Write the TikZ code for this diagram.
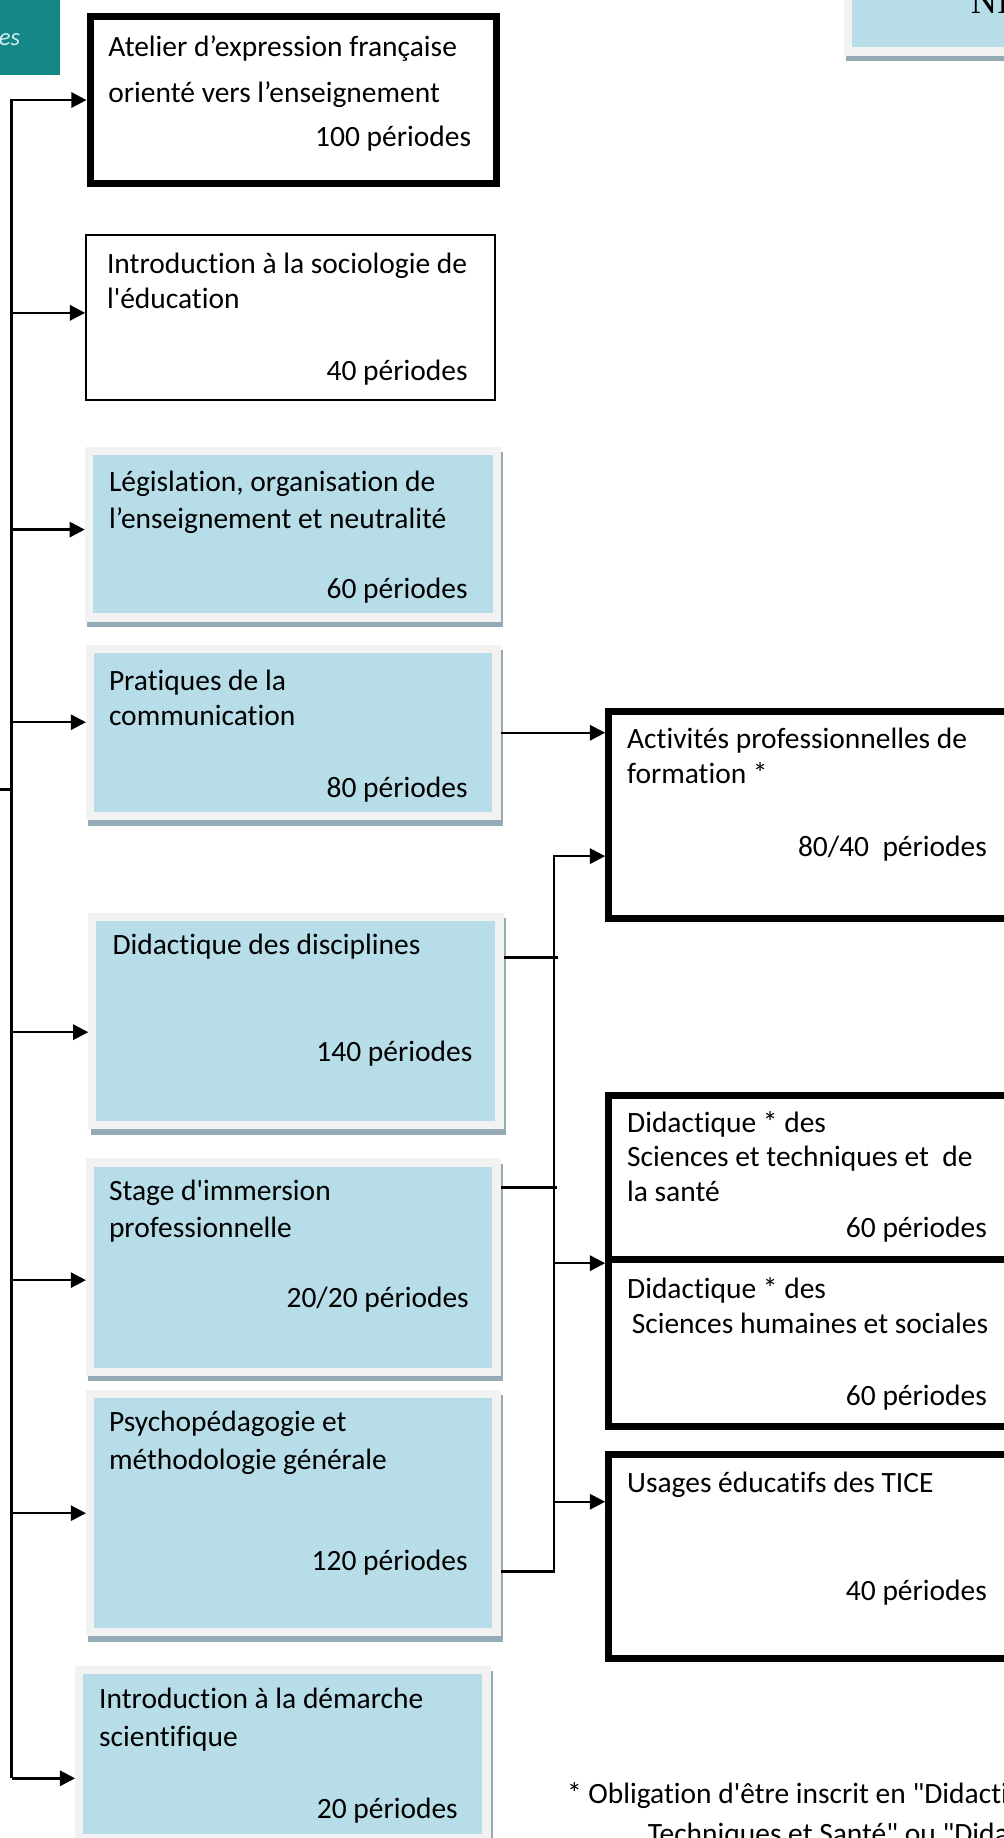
\documentclass[tikz,border=0pt]{standalone}
\usepackage{fontspec}
\setmainfont{Carlito}[Ligatures={TeXOff,CommonOff}]
\newfontfamily\headfont{Liberation Serif}
\usetikzlibrary{arrows.meta, positioning, shadows}
\definecolor{cellblue}{HTML}{B7DDE8}
\definecolor{celledge}{HTML}{F2F2F2}
\definecolor{cellshade}{HTML}{94ABB6}
\definecolor{bannerteal}{HTML}{138686}
\definecolor{bannertext}{HTML}{D2EFEF}
\tikzset{%
	module/.style={
		rectangle,
		inner sep=0pt,
		anchor=north west
	},
	plain module/.style={
		module,
		draw=black,
		fill=white,
		line width=2pt
	},
	bold module/.style={
		plain module,
		line width=6pt
	},
	shaded module/.style={
		module,
		fill=cellblue,
		draw=celledge,
		line width=7pt,
		general shadow={fill=cellshade, draw=cellshade, line width=7pt,
			shadow xshift=2pt, shadow yshift=-4.5pt}
	},
	txt/.style={
		inner sep=0pt,
		anchor=base west,
		font=\fontsize{25.2}{30.5}\selectfont
	},
	hours/.style={txt, anchor=base east},
	link/.style={line width=2.1pt},
	feed/.style={link, -{Triangle[length=13pt, width=13pt]}},
}
\begin{document}
\begin{tikzpicture}[x=1pt, y=-1pt]
	\useasboundingbox (0,0) rectangle (858.4,1571.5);
	\clip (0,0) rectangle (858.4,1571.5);

	% Banner corners cut by the page
	\fill[bannerteal] (-10,-10) rectangle (51,64);
	\node[txt, anchor=base east, font=\fontsize{21}{25}\selectfont\itshape, text=bannertext] (bannertag) at (17.5,38.5) {es};
	\node[shaded module, minimum width=300, minimum height=100] (levelbox) at (721.5,-59.5) {};
	\node[txt, font=\headfont\fontsize{31}{36}\selectfont] (leveltitle) at (830,11.5) {NI};

	% Modules of the left column
	\node[bold module, minimum width=347.6, minimum height=142.1] (atelier) at (74,11.5) {};
	\node[plain module, minimum width=349.2, minimum height=141] (socio) at (72.8,200) {};
	\node[shaded module, minimum width=348.7, minimum height=142.4] (legis) at (72.5,382.1) {};
	\node[shaded module, minimum width=347.5, minimum height=143] (pratiq) at (73.5,551.5) {};
	\node[shaded module, minimum width=348, minimum height=178] (didac) at (75.5,780.5) {};
	\node[shaded module, minimum width=347.5, minimum height=179] (stage) at (73.5,990.5) {};
	\node[shaded module, minimum width=347.5, minimum height=203.5] (psycho) at (73.5,1188.5) {};
	\node[shaded module, minimum width=348.3, minimum height=143.7] (demarche) at (64.2,1424.5) {};

	% Modules of the right column
	\node[bold module, minimum width=500, minimum height=176.5] (apf) at (517.4,605.5) {};
	\node[bold module, minimum width=500, minimum height=140.2] (dsts) at (517.4,933.8) {};
	\node[bold module, minimum width=500, minimum height=143] (dshs) at (517.4,1074) {};
	\node[bold module, minimum width=500, minimum height=174.5] (tice) at (517.4,1240.5) {};

	% Texts
	\node[txt] (atelier1) at (92.5,48) {Atelier d’expression française};
	\node[txt] (atelier2) at (92.5,88) {orienté vers l’enseignement};
	\node[hours] (atelier3) at (403,125) {100 périodes};

	\node[txt] (socio1) at (91.3,234) {Introduction à la sociologie de};
	\node[txt] (socio2) at (91.3,264) {l'éducation};
	\node[hours] (socio3) at (400,325) {40 périodes};

	\node[txt] (legis1) at (93,420) {Législation, organisation de};
	\node[txt] (legis2) at (93,452) {l’enseignement et neutralité};
	\node[hours] (legis3) at (400,512) {60 périodes};

	\node[txt] (pratiq1) at (93,590) {Pratiques de la};
	\node[txt] (pratiq2) at (93,620) {communication};
	\node[hours] (pratiq3) at (400,682) {80 périodes};

	\node[txt] (didac1) at (96,816) {Didactique des disciplines};
	\node[hours] (didac2) at (404,908) {140 périodes};

	\node[txt] (stage1) at (93,1026) {Stage d'immersion};
	\node[txt] (stage2) at (93,1058) {professionnelle};
	\node[hours] (stage3) at (401,1118) {20/20 périodes};

	\node[txt] (psycho1) at (93,1224) {Psychopédagogie et};
	\node[txt] (psycho2) at (93,1256) {méthodologie générale};
	\node[hours] (psycho3) at (400,1343) {120 périodes};

	\node[txt] (demarche1) at (84.6,1461) {Introduction à la démarche};
	\node[txt] (demarche2) at (84.6,1493) {scientifique};
	\node[hours] (demarche3) at (391.6,1555) {20 périodes};

	\node[txt] (apf1) at (536,640) {Activités professionnelles de};
	\node[txt] (apf2) at (536,670) {formation *};
	\node[hours] (apf3) at (844,732) {80/40\ \ périodes};

	\node[txt] (dsts1) at (536,968) {Didactique * des};
	\node[txt] (dsts2) at (536,997) {Sciences et techniques et\ \ de};
	\node[txt] (dsts3) at (536,1027) {la santé};
	\node[hours] (dsts4) at (844,1058) {60 périodes};

	\node[txt] (dshs1) at (536,1110) {Didactique * des};
	\node[txt] (dshs2) at (540,1140) {Sciences humaines et sociales};
	\node[hours] (dshs3) at (844,1202) {60 périodes};

	\node[txt] (tice1) at (536,1276) {Usages éducatifs des TICE};
	\node[hours] (tice2) at (844,1368) {40 périodes};

	\node[txt] (note1) at (484.6,1542) {* Obligation d'être inscrit en "Didactique};
	\node[txt] (note2) at (553.7,1576) {Techniques et Santé" ou "Didactique};

	% Trunk on the left
	\coordinate (trunk) at (10,0);
	\coordinate (source) at (0,675);
	\coordinate (row2) at ([yshift=4pt]socio.west);
	\coordinate (row3) at ([yshift=4pt]legis.west);
	\coordinate (row4) at ([yshift=9pt]pratiq.west);
	\coordinate (row5) at ([yshift=-9.5pt]didac.west);
	\coordinate (row6) at ([yshift=-11pt]stage.west);
	\coordinate (row8) at ([yshift=-20.6pt]demarche.west);
	\draw[feed] (trunk |- row8) -- (trunk |- atelier.west) -- (atelier.west);
	\draw[link] (source) -- (source -| trunk);
	\draw[feed] (trunk |- row2) -- (row2);
	\draw[feed] (trunk |- row3) -- (row3);
	\draw[feed] (trunk |- row4) -- (row4);
	\draw[feed] (trunk |- row5) -- (row5);
	\draw[feed] (trunk |- row6) -- (row6);
	\draw[feed] (trunk |- psycho.west) -- (psycho.west);
	\draw[feed] (trunk |- row8) -- (row8);

	% Bus on the right
	\coordinate (bus) at (473.5,0);
	\coordinate (out5) at ([yshift=54.5pt]didac.east);
	\coordinate (out6) at ([yshift=68pt]stage.east);
	\coordinate (out7) at ([yshift=-50pt]psycho.east);
	\coordinate (in1) at ([yshift=-35.25pt]apf.west);
	\coordinate (in4) at ([yshift=46.75pt]tice.west);
	\draw[feed] (pratiq.east) -- (pratiq.east -| apf.west);
	\draw[feed] (out7) -- (out7 -| bus) -- (bus |- in1) -- (in1);
	\draw[link] (out5) -- (out5 -| bus) -- ++(3.5,0);
	\draw[link] (out6) -- (out6 -| bus) -- ++(2.5,0);
	\draw[feed] (bus |- dsts.south west) -- (dsts.south west);
	\draw[feed] (bus |- in4) -- (in4);
\end{tikzpicture}
\end{document}
